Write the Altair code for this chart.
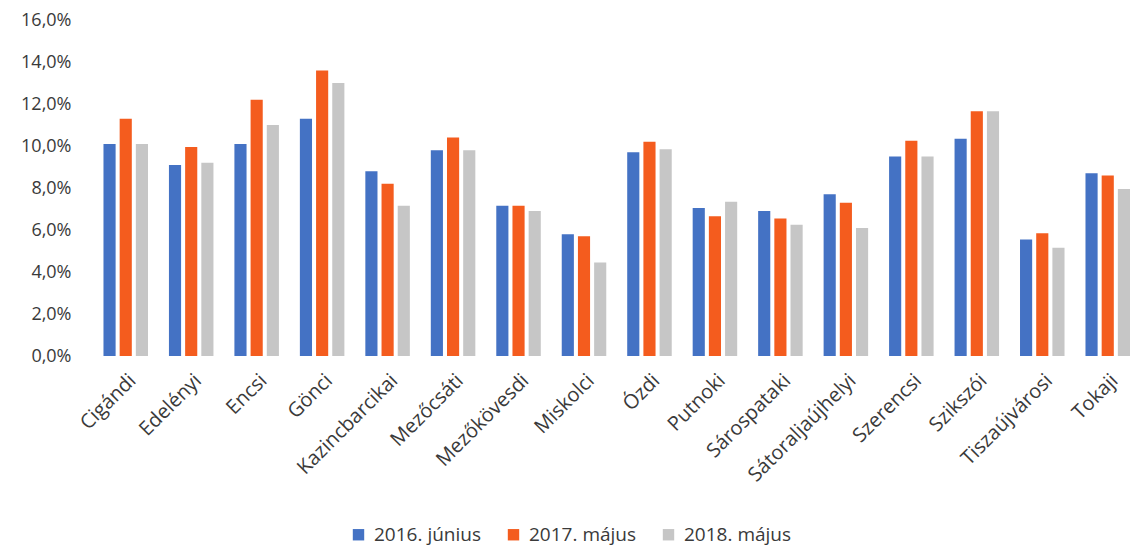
import altair as alt
import pandas as pd

categories = ["Cigándi", "Edelényi", "Encsi", "Gönci", "Kazincbarcikai", "Mezőcsáti",
              "Mezőkövesdi", "Miskolci", "Ózdi", "Putnoki", "Sárospataki",
              "Sátoraljaújhelyi", "Szerencsi", "Szikszói", "Tiszaújvárosi", "Tokaji"]
series = ["2016. június", "2017. május", "2018. május"]
v2016 = [10.1, 9.1, 10.1, 11.3, 8.8, 9.8, 7.15, 5.8, 9.7, 7.05, 6.9, 7.7, 9.5, 10.35, 5.55, 8.7]
v2017 = [11.3, 9.95, 12.2, 13.6, 8.2, 10.4, 7.15, 5.7, 10.2, 6.65, 6.55, 7.3, 10.25, 11.65, 5.85, 8.6]
v2018 = [10.1, 9.2, 11.0, 13.0, 7.15, 9.8, 6.9, 4.45, 9.85, 7.35, 6.25, 6.1, 9.5, 11.65, 5.15, 7.95]
colors = ["#4472C4", "#F45C1E", "#C6C6C6"]

rows = []
for s, vals in zip(series, [v2016, v2017, v2018]):
    for c, v in zip(categories, vals):
        rows.append({"cat": c, "series": s, "value": v})
df = pd.DataFrame(rows)

FONT = "Open Sans"
TXT = "#3a3a3a"
chart = alt.Chart(df).mark_bar().encode(
    x=alt.X("cat:N", sort=categories, title=None,
            scale=alt.Scale(paddingInner=0.32, paddingOuter=0.08, align=1),
            axis=alt.Axis(labelAngle=-45, labelAlign="right", labelBaseline="top",
                          labelFontSize=20, labelColor=TXT, labelFont=FONT,
                          labelPadding=14, domain=False, ticks=False, labelLimit=300,
                          labelOverlap=False)),
    xOffset=alt.XOffset("series:N", sort=series, scale=alt.Scale(paddingInner=0.25)),
    y=alt.Y("value:Q", title=None,
            scale=alt.Scale(domain=[0, 16], nice=False),
            axis=alt.Axis(values=[0, 2, 4, 6, 8, 10, 12, 14, 16],
                          labelExpr="replace(format(datum.value, '.1f'), '.', ',') + '%'",
                          labelFontSize=18, labelColor=TXT, labelFont=FONT,
                          labelPadding=22, grid=False, domain=False, ticks=False)),
    color=alt.Color("series:N", sort=series,
                    scale=alt.Scale(domain=series, range=colors),
                    legend=alt.Legend(title=None, orient="none", direction="horizontal",
                                      columns=3, legendX=256, legendY=505,
                                      symbolType="square", symbolSize=130,
                                      symbolStrokeWidth=0, labelFontSize=19,
                                      labelFont=FONT, labelColor=TXT,
                                      columnPadding=22, gridAlign="all",
                                      symbolOpacity=1, labelOffset=6)),
).properties(
    width=1037, height=336,
    autosize=alt.AutoSizeParams(type="none"),
    padding={"left": 85, "top": 12, "right": 0, "bottom": 191},
).configure_view(stroke=None)

chart.save("out.html", embed_options={"renderer": "svg", "actions": False})
